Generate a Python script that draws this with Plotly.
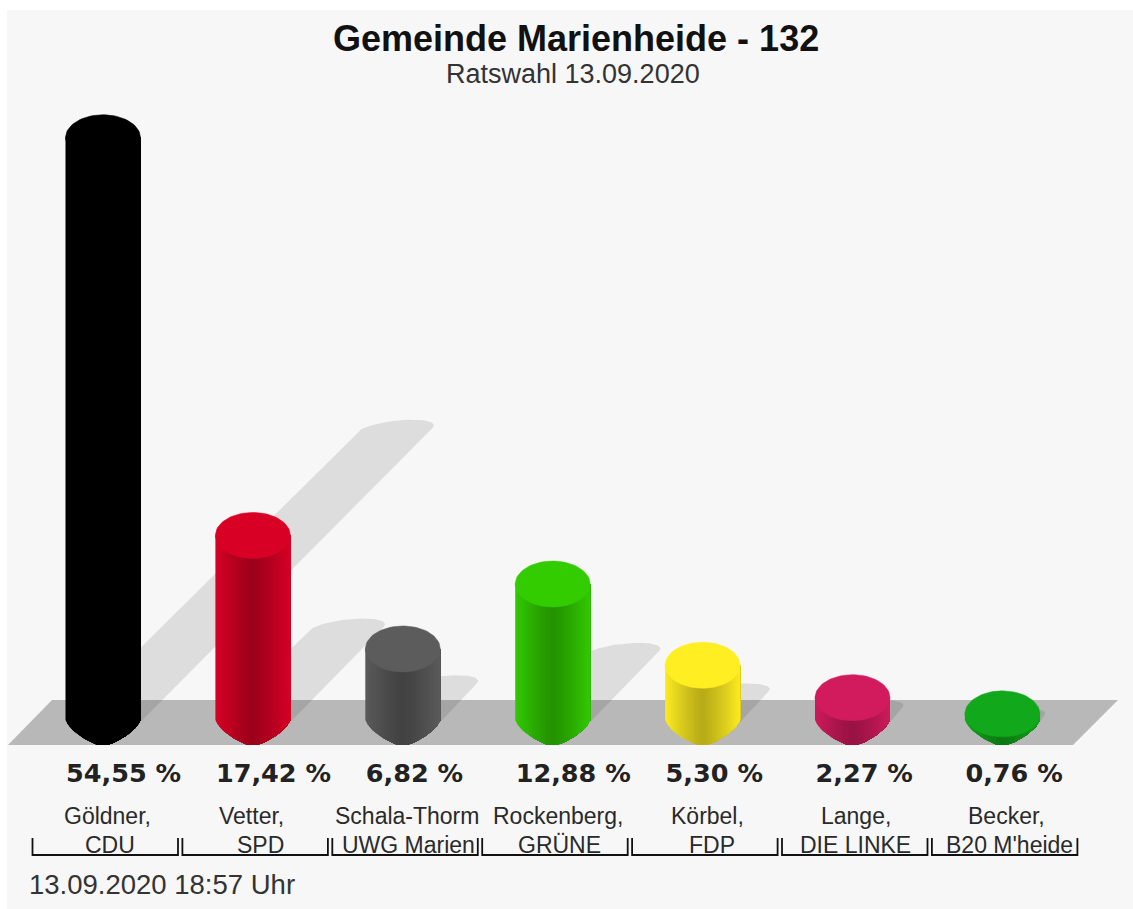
import numpy as np
import plotly.graph_objects as go

# ---- data ----
TITLE = "Gemeinde Marienheide - 132"
SUBTITLE = "Ratswahl 13.09.2020"
TIMESTAMP = "13.09.2020 18:57 Uhr"
names = ["Göldner,", "Vetter,", "Schala-Thorm", "Rockenberg,", "Körbel,", "Lange,", "Becker,"]
parties = ["CDU", "SPD", "UWG Marien", "GRÜNE", "FDP", "DIE LINKE", "B20 M'heide"]
values = [54.55, 17.42, 6.82, 12.88, 5.30, 2.27, 0.76]
value_labels = ["54,55 %", "17,42 %", "6,82 %", "12,88 %", "5,30 %", "2,27 %", "0,76 %"]
colors = ["#000000", "#d90026", "#5c5c5c", "#33cc00", "#ffee22", "#d11b5c", "#12a81b"]

# ---- layout constants (pixels of the 1133x909 page) ----
W, H = 1133, 909
ML, MT = 7, 10
X0_PX, X_STEP = 103.0, 149.9      # centre of first column, column pitch
Y0_PX, Y_SCALE = 722.0, 10.71     # baseline, pixels per percent
HALF_W, TOP_B = 37.5, 23.0        # cylinder half-width, top-ellipse semi-height
BOT_P, BOT_B, BOT_CLIP, BOT_START = 1.4, 26.0, 25.0, 720.0
SHADOW_B, SHADOW_SKEW, SHADOW_TILT = 10.0, 10.0, 2.0
N = 40
name_dx = [4, -1, 4, 5, 5, 3, 4]
party_dx = [7, 8, 6, 7, 9, 3, 7]

def xd(px):
    return (px - X0_PX) / X_STEP

def yd(px):
    return (Y0_PX - px) / Y_SCALE

def shade(hexc, f):
    r, g, b = int(hexc[1:3], 16), int(hexc[3:5], 16), int(hexc[5:7], 16)
    return f"rgb({int(r*f)},{int(g*f)},{int(b*f)})"

fig = go.Figure()

def poly(xs, ys, color, lw=0.0):
    fig.add_trace(go.Scatter(x=xs, y=ys, mode="lines", fill="toself", fillcolor=color,
                             line=dict(color=color, width=lw), hoverinfo="skip", showlegend=False))

# floor
poly([xd(8), xd(1073), xd(1118), xd(52), xd(8)],
     [yd(745), yd(745), yd(700), yd(700), yd(745)], "#b8b8b8")

# shadows
for i, v in enumerate(values):
    s = v * Y_SCALE / 2
    cx = X0_PX + X_STEP * i
    t = np.linspace(np.pi, 0, 40)
    ex = cx + s + HALF_W * np.cos(t) + SHADOW_SKEW * np.sin(t)
    ey = Y0_PX - s - SHADOW_B * np.sin(t) - SHADOW_TILT * np.cos(t)
    xs = np.r_[cx - HALF_W, ex, cx + HALF_W, cx - HALF_W]
    ys = np.r_[Y0_PX, ey, Y0_PX, Y0_PX]
    fig.add_trace(go.Scatter(x=xd(xs), y=yd(ys), mode="lines", fill="toself",
                             fillcolor="rgba(0,0,0,0.10)", line=dict(width=0),
                             hoverinfo="skip", showlegend=False))

# cylinders: each strip runs to the right edge, the next one paints over it
edges = np.linspace(-1, 1, N + 1)
for i, (v, c) in enumerate(zip(values, colors)):
    cx = X0_PX + X_STEP * i
    top_c = Y0_PX - v * Y_SCALE
    for k in range(N):
        a = edges[k]
        us = np.linspace(a, 1, max(4, N - k + 1))
        depth = np.minimum(BOT_B * (1 - np.abs(us) ** BOT_P) ** (1 / BOT_P), BOT_CLIP)
        mid = (edges[k] + edges[k + 1]) / 2
        f = 0.72 + 0.27 * abs(mid) ** 1.2
        xs = np.r_[cx + HALF_W * a, cx + HALF_W, cx + HALF_W * us[::-1], cx + HALF_W * a]
        ys = np.r_[top_c, top_c, BOT_START + depth[::-1], top_c]
        poly(xd(xs), yd(ys), shade(c, f))
    t = np.linspace(0, 2 * np.pi, 80)
    poly(xd(cx + HALF_W * np.cos(t)), yd(top_c + TOP_B * np.sin(t)), c, 0.5)

# value labels
fig.add_trace(go.Scatter(
    x=[xd(X0_PX + X_STEP * i - 37) for i in range(len(values))],
    y=[yd(776)] * len(values), mode="text", text=value_labels, textposition="middle right",
    textfont=dict(family="DejaVu Sans", size=25.5, color="#222222", weight="bold"),
    hoverinfo="skip", showlegend=False))

ann = []
for i in range(len(names)):
    cx = X0_PX + X_STEP * i
    ann.append(dict(x=xd(cx + name_dx[i]), y=yd(816), text=names[i], showarrow=False,
                    font=dict(family="Liberation Sans", size=23, color="#2a2a2a")))
    ann.append(dict(x=xd(cx + party_dx[i]), y=yd(845), text=parties[i], showarrow=False,
                    font=dict(family="Liberation Sans", size=23, color="#2a2a2a")))
    # bracket under the label
    l, r = cx - 70.5, cx + 75
    fig.add_trace(go.Scatter(x=xd(np.array([l, l, r, r])), y=yd(np.array([838, 855, 855, 838])),
                             mode="lines", line=dict(color="#111111", width=1.8),
                             hoverinfo="skip", showlegend=False))
ann.append(dict(x=xd(572.5), y=yd(74), text=SUBTITLE, showarrow=False,
                font=dict(family="Liberation Sans", size=27, color="#333333")))
ann.append(dict(x=xd(27), y=yd(884), text=TIMESTAMP, showarrow=False, xanchor="left",
                font=dict(family="Liberation Sans", size=27.5, color="#333333")))
ann.append(dict(x=xd(575.5), y=yd(38), text=TITLE, showarrow=False,
                font=dict(family="Liberation Sans", size=36, color="#111111", weight="bold")))

fig.update_layout(
    width=W, height=H, margin=dict(l=ML, r=0, t=MT, b=0),
    paper_bgcolor="#ffffff", plot_bgcolor="#f7f7f7", showlegend=False, annotations=ann,
    xaxis=dict(range=[xd(ML), xd(W)], visible=False, fixedrange=True),
    yaxis=dict(range=[yd(H), yd(MT)], visible=False, fixedrange=True),
)
fig.write_html("out.html", config=dict(displayModeBar=False),
               post_script="document.body.style.margin='0';document.documentElement.style.overflow='hidden';")
